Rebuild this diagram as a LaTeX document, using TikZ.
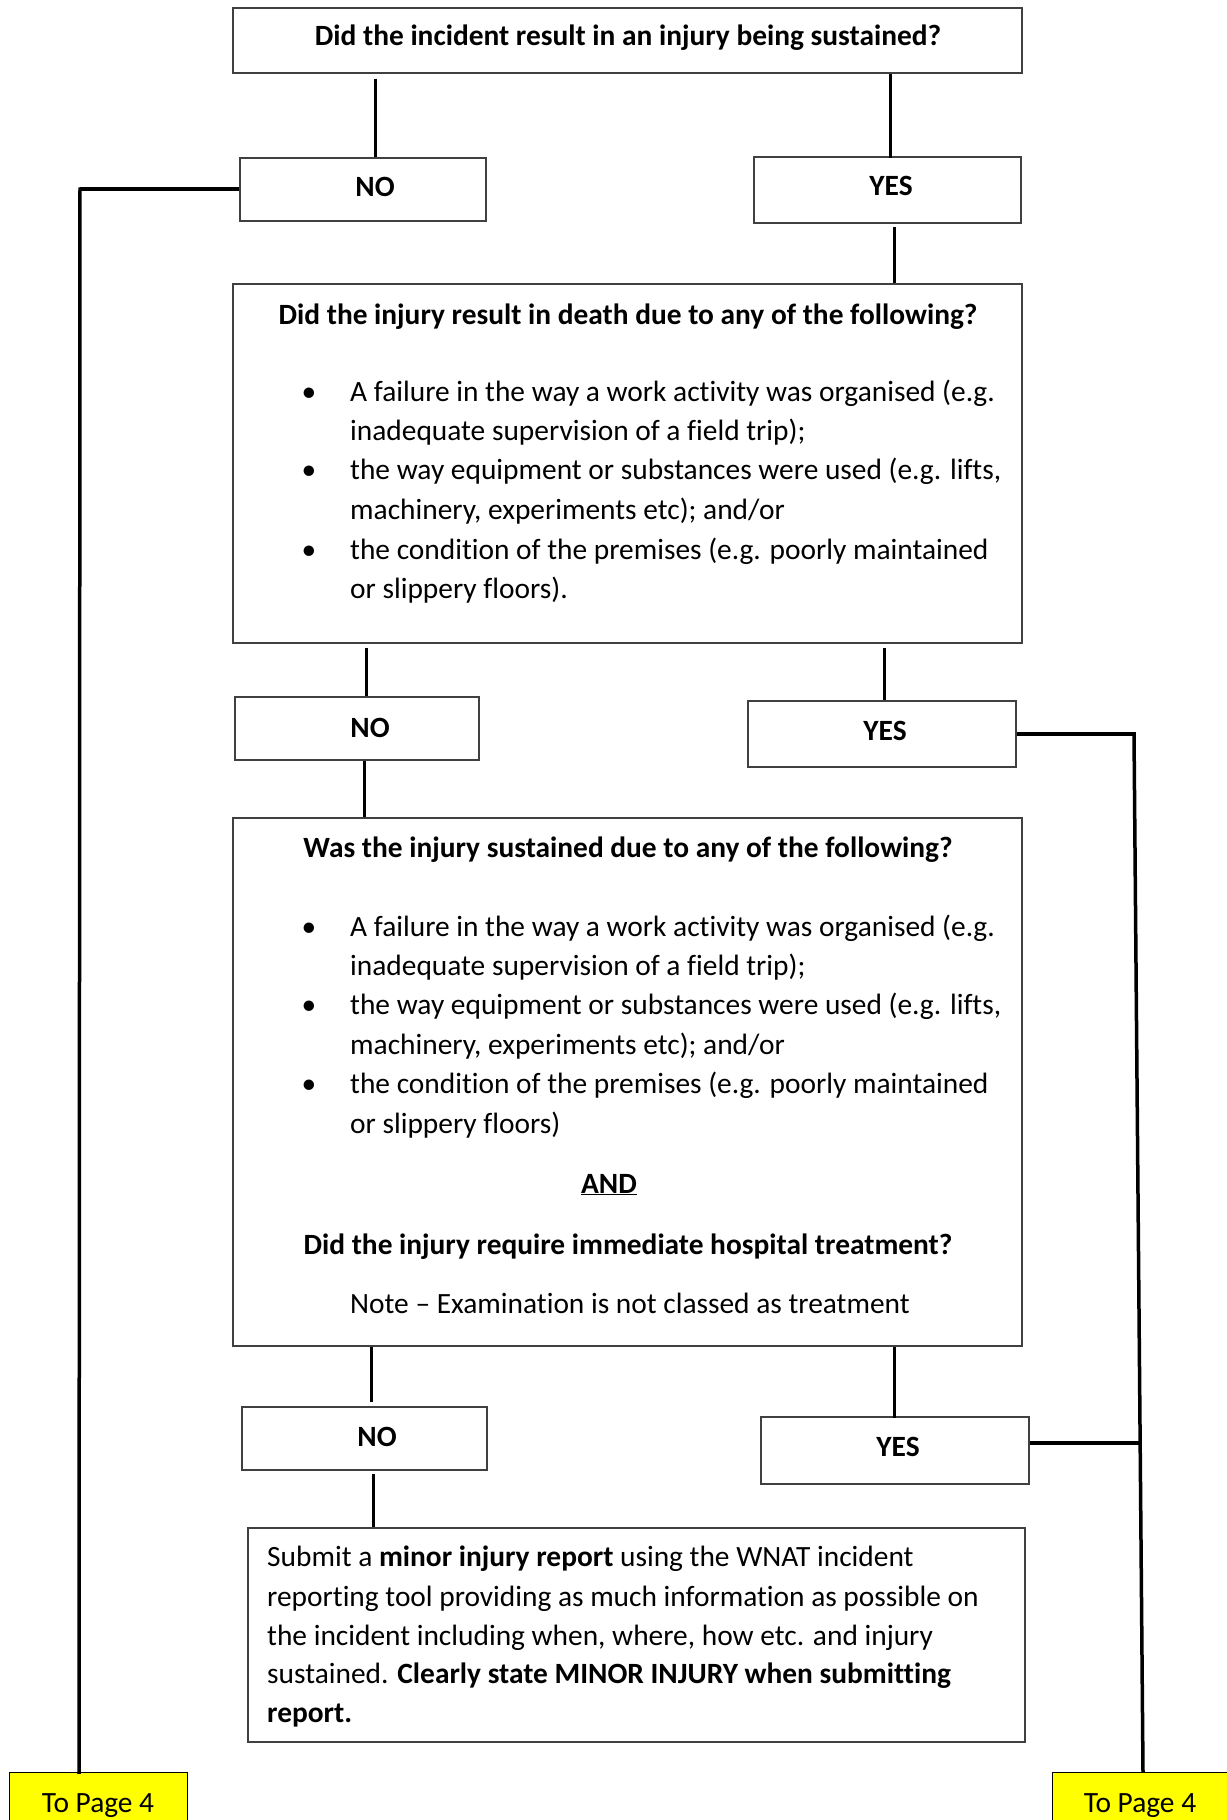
\documentclass[tikz,border=0pt]{standalone}
\usepackage{fontspec}
\setmainfont{Carlito}[Ligatures={NoCommon}]
\usetikzlibrary{calc}
\definecolor{pageyellow}{HTML}{FFFF00}
\begin{document}
\begin{tikzpicture}[x=1pt,y=-1pt,
  box/.style={draw=black!75, line width=1.4pt, rectangle, inner sep=0pt, fill=white},
  pagebox/.style={draw=black, line width=1.4pt, rectangle, inner sep=0pt, fill=pageyellow, anchor=north west},
  conn/.style={line width=3pt, black},
  longconn/.style={line width=3.5pt, black},
  thickconn/.style={line width=4.5pt, black},
  lbl/.style={inner sep=0pt, anchor=base, font=\fontsize{29.4}{39}\selectfont},
  lblw/.style={inner sep=0pt, anchor=base west, font=\fontsize{29.4}{39}\selectfont},
]
\useasboundingbox (0,0) rectangle (1226,1820);
\fill[white] (0,0) rectangle (1226,1820);

% ---------- boxes ----------
\node[box, minimum width=789pt, minimum height=65pt]  (q1) at (627.5,40.5) {};
\node[box, minimum width=246pt, minimum height=63pt]  (n1) at (363,189.5) {};
\node[box, minimum width=267pt, minimum height=66pt]  (y1) at (887.5,190) {};
\node[box, minimum width=789pt, minimum height=359pt] (q2) at (627.5,463.5) {};
\node[box, minimum width=244pt, minimum height=63pt]  (n2) at (357,728.5) {};
\node[box, minimum width=268pt, minimum height=66pt]  (y2) at (882,734) {};
\node[box, minimum width=789pt, minimum height=528pt] (q3) at (627.5,1082) {};
\node[box, minimum width=245pt, minimum height=63pt]  (n3) at (364.5,1438.5) {};
\node[box, minimum width=268pt, minimum height=67pt]  (y3) at (895,1450.5) {};
\node[box, minimum width=777pt, minimum height=214pt] (q4) at (636.5,1635) {};
\node[pagebox, minimum width=178pt, minimum height=70pt] (p1) at (9,1772) {};
\node[pagebox, minimum width=200pt, minimum height=70pt] (p2) at (1052,1772) {};

% ---------- texts ----------
\node[lbl] (t1) at (628,45) {\bfseries Did the incident result in an injury being sustained?};
\node[lbl] (tn1) at (375,196) {\bfseries NO};
\node[lbl] (ty1) at (891,195) {\bfseries YES};

\node[lbl] (t2) at (628,324) {\bfseries Did the injury result in death due to any of the following?};
\node[lbl]  (b21) at (309,401) {•};
\node[lblw] (l21) at (350,401) {A failure in the way a work activity was organised (e.g.};
\node[lblw] (l22) at (350,440) {inadequate supervision of a field trip);};
\node[lbl]  (b22) at (309,479) {•};
\node[lblw] (l23) at (350,479) {the way equipment or substances were used (e.g. lifts,};
\node[lblw] (l24) at (350,519) {machinery, experiments etc); and/or};
\node[lbl]  (b23) at (309,559) {•};
\node[lblw] (l25) at (350,559) {the condition of the premises (e.g. poorly maintained};
\node[lblw] (l26) at (350,598) {or slippery floors).};

\node[lbl] (tn2) at (370,737) {\bfseries NO};
\node[lbl] (ty2) at (885,740) {\bfseries YES};

\node[lbl] (t3) at (628,857) {\bfseries Was the injury sustained due to any of the following?};
\node[lbl]  (b31) at (309,936) {•};
\node[lblw] (l31) at (350,936) {A failure in the way a work activity was organised (e.g.};
\node[lblw] (l32) at (350,975) {inadequate supervision of a field trip);};
\node[lbl]  (b32) at (309,1014) {•};
\node[lblw] (l33) at (350,1014) {the way equipment or substances were used (e.g. lifts,};
\node[lblw] (l34) at (350,1054) {machinery, experiments etc); and/or};
\node[lbl]  (b33) at (309,1093) {•};
\node[lblw] (l35) at (350,1093) {the condition of the premises (e.g. poorly maintained};
\node[lblw] (l36) at (350,1133) {or slippery floors)};
\node[lbl] (tand) at (609,1193) {\bfseries\underline{AND}};
\node[lbl] (t3b) at (628,1254) {\bfseries Did the injury require immediate hospital treatment?};
\node[lblw] (tnote) at (350,1313) {Note – Examination is not classed as treatment};

\node[lbl] (tn3) at (377,1446) {\bfseries NO};
\node[lbl] (ty3) at (898,1456) {\bfseries YES};

\node[lblw] (l41) at (267,1566) {Submit a \textbf{minor injury report} using the WNAT incident};
\node[lblw] (l42) at (267,1606) {reporting tool providing as much information as possible on};
\node[lblw] (l43) at (267,1645) {the incident including when, where, how etc. and injury};
\node[lblw] (l44) at (267,1683) {sustained. \textbf{Clearly state MINOR INJURY when submitting}};
\node[lblw] (l45) at (267,1722) {\textbf{report.}};

\node[lbl] (tp1) at (98,1812) {To Page 4};
\node[lbl] (tp2) at (1140,1812) {To Page 4};

% ---------- connectors ----------
\coordinate (x1) at (375,0);
\coordinate (x2) at (890,0);
\coordinate (x3) at (894,0);
\coordinate (x5) at (366,0);
\coordinate (x6) at (884,0);
\coordinate (x7) at (364,0);
\coordinate (x9) at (371,0);
\coordinate (x10) at (894,0);
\coordinate (x12) at (373,0);

\draw[conn] ([yshift=-5pt]q1.south -| x1) -- (n1.north -| x1);
\draw[conn] (q1.south -| x2) -- ([yshift=-2pt]y1.north -| x2);
\draw[conn] ([yshift=-3pt]y1.south -| x3) -- (q2.north -| x3);
\draw[conn] ([yshift=-4pt]q2.south -| x5) -- (n2.north -| x5);
\draw[conn] ([yshift=-4pt]q2.south -| x6) -- (y2.north -| x6);
\draw[conn] (n2.south -| x7) -- (q3.north -| x7);
\draw[conn] (q3.south -| x9) -- ([yshift=4pt]n3.north -| x9);
\draw[conn] (q3.south -| x10) -- ([yshift=-2pt]y3.north -| x10);
\draw[conn] ([yshift=-3pt]n3.south -| x12) -- (q4.north -| x12);

% left route: NO -> To Page 4
\coordinate (k1) at (80,189);
\draw[thickconn] (n1.west |- k1) -- (k1);
\draw[longconn, line cap=rect] (k1) -- ([xshift=-1pt]k1 |- p1.north);

% right route: YES -> To Page 4
\coordinate (k2) at (1134,734);
\coordinate (k3) at (1143,1772);
\draw[thickconn] (y2.east |- k2) -- ([xshift=2pt]k2);
\draw[longconn] (k2) -- (k3);
\coordinate (k4) at ($(k2)!0.683!(k3)$);
\draw[thickconn] (y3.east |- k4) -- (k4);
\end{tikzpicture}
\end{document}
